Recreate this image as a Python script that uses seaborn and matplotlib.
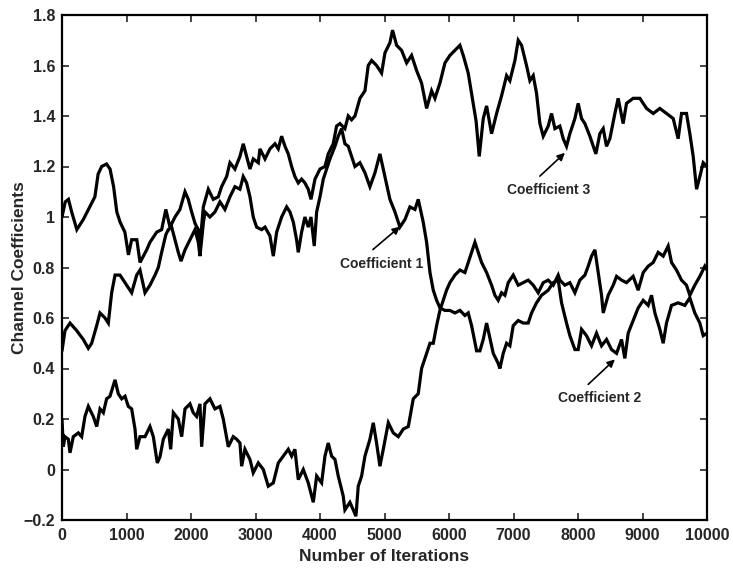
import matplotlib
matplotlib.use("Agg")
import matplotlib.pyplot as plt
import numpy as np
import pandas as pd
import seaborn as sns

# ---- channel coefficient tracks (iteration, value) ----
coef3_iter = [0, 50, 100, 150, 230, 330, 430, 510, 560, 615, 690, 745, 800, 850, 900, 975,
              1030, 1080, 1160, 1210, 1313, 1364, 1468, 1545, 1610, 1674, 1752, 1829, 1907,
              1958, 2010, 2062, 2113, 2139, 2191, 2268, 2345, 2423, 2474, 2552, 2604, 2681,
              2759, 2810, 2862, 2914, 2965, 3043, 3069, 3147, 3224, 3302, 3353, 3405, 3457,
              3508, 3560, 3611, 3663, 3715, 3766, 3818, 3860, 3922, 4000, 4077, 4128, 4205,
              4257, 4309, 4386, 4438, 4490, 4542, 4619, 4697, 4748, 4800, 4877, 4955, 5007,
              5084, 5125, 5188, 5265, 5343, 5420, 5498, 5575, 5653, 5730, 5782, 5859, 5937,
              6014, 6092, 6169, 6221, 6298, 6376, 6420, 6469, 6531, 6583, 6660, 6738, 6815,
              6893, 6944, 7022, 7073, 7125, 7202, 7254, 7306, 7357, 7409, 7461, 7538, 7590,
              7642, 7719, 7771, 7822, 7874, 7952, 8003, 8055, 8107, 8184, 8277, 8339, 8391,
              8442, 8494, 8572, 8623, 8700, 8752, 8855, 8959, 9063, 9166, 9269, 9372, 9476,
              9553, 9605, 9682, 9734, 9786, 9838, 9889, 9941, 10000]
coef3_val = [1.00, 1.06, 1.07, 1.02, 0.95, 0.99, 1.04, 1.08, 1.17, 1.20, 1.21, 1.19, 1.12, 1.02,
             0.98, 0.94, 0.85, 0.91, 0.91, 0.82, 0.87, 0.90, 0.94, 0.95, 1.03, 0.96, 1.00, 1.03,
             1.10, 1.07, 1.02, 0.975, 0.95, 0.885, 1.04, 1.11, 1.07, 1.08, 1.12, 1.16, 1.215,
             1.19, 1.24, 1.29, 1.24, 1.19, 1.23, 1.215, 1.27, 1.23, 1.27, 1.29, 1.27, 1.32, 1.28,
             1.25, 1.20, 1.16, 1.135, 1.15, 1.135, 1.11, 1.07, 1.15, 1.19, 1.20, 1.25, 1.29,
             1.36, 1.37, 1.35, 1.40, 1.385, 1.40, 1.47, 1.50, 1.60, 1.62, 1.60, 1.57, 1.65,
             1.69, 1.74, 1.68, 1.66, 1.61, 1.64, 1.58, 1.53, 1.43, 1.50, 1.47, 1.53, 1.61,
             1.64, 1.66, 1.68, 1.64, 1.57, 1.45, 1.38, 1.24, 1.39, 1.44, 1.33, 1.41, 1.48,
             1.56, 1.54, 1.62, 1.70, 1.68, 1.60, 1.54, 1.56, 1.49, 1.37, 1.32, 1.36, 1.41,
             1.35, 1.36, 1.31, 1.28, 1.33, 1.39, 1.45, 1.39, 1.37, 1.32, 1.25, 1.33, 1.35,
             1.28, 1.31, 1.41, 1.47, 1.37, 1.45, 1.47, 1.47, 1.43, 1.41, 1.43, 1.41, 1.39,
             1.31, 1.41, 1.41, 1.33, 1.24, 1.11, 1.16, 1.215, 1.20]

coef1_iter = [0, 46, 124, 228, 330, 408, 460, 538, 589, 667, 718, 770, 822, 899, 1003, 1080,
              1158, 1209, 1287, 1364, 1442, 1493, 1545, 1610, 1648, 1700, 1752, 1803, 1845,
              1907, 1984, 2062, 2113, 2139, 2191, 2216, 2294, 2371, 2449, 2526, 2604, 2681,
              2759, 2810, 2862, 2914, 2965, 3017, 3095, 3147, 3224, 3276, 3328, 3405, 3483,
              3534, 3586, 3637, 3663, 3715, 3766, 3818, 3860, 3911, 3948, 4000, 4051, 4102,
              4154, 4232, 4283, 4335, 4386, 4438, 4490, 4542, 4619, 4697, 4774, 4852, 4929,
              5007, 5084, 5162, 5239, 5317, 5394, 5472, 5523, 5600, 5653, 5705, 5756, 5808,
              5860, 5937, 6014, 6092, 6169, 6247, 6298, 6350, 6428, 6479, 6531, 6583, 6634,
              6686, 6763, 6789, 6841, 6893, 6944, 6996, 7073, 7150, 7228, 7280, 7357, 7435,
              7538, 7616, 7693, 7745, 7822, 7874, 7952, 8003, 8055, 8132, 8210, 8287, 8365,
              8442, 8520, 8598, 8675, 8726, 8778, 8855, 8933, 9011, 9088, 9140, 9192, 9269,
              9321, 9372, 9450, 9553, 9656, 9734, 9811, 9889, 9941, 10000]
coef1_val = [0.47, 0.55, 0.58, 0.55, 0.515, 0.48, 0.50, 0.57, 0.62, 0.60, 0.58, 0.70, 0.77,
             0.77, 0.73, 0.70, 0.77, 0.79, 0.70, 0.73, 0.77, 0.80, 0.86, 0.93, 0.95, 0.96,
             0.91, 0.86, 0.825, 0.87, 0.91, 0.95, 0.90, 0.845, 0.975, 1.02, 1.00, 1.02, 1.06,
             1.03, 1.08, 1.12, 1.11, 1.16, 1.135, 1.08, 1.00, 0.96, 0.95, 0.96, 0.925, 0.845,
             0.94, 1.00, 1.04, 1.02, 0.98, 0.91, 0.86, 0.94, 1.00, 0.96, 1.00, 0.885, 1.02,
             1.08, 1.15, 1.19, 1.23, 1.28, 1.32, 1.35, 1.29, 1.28, 1.24, 1.20, 1.215, 1.175,
             1.12, 1.175, 1.25, 1.16, 1.07, 1.02, 0.96, 0.99, 1.04, 1.03, 1.07, 0.98, 0.90,
             0.78, 0.71, 0.67, 0.64, 0.63, 0.63, 0.62, 0.63, 0.61, 0.62, 0.57, 0.47, 0.47,
             0.515, 0.58, 0.52, 0.46, 0.42, 0.40, 0.46, 0.50, 0.49, 0.57, 0.59, 0.58, 0.58,
             0.62, 0.66, 0.69, 0.71, 0.74, 0.75, 0.66, 0.58, 0.53, 0.475, 0.475, 0.555, 0.53,
             0.49, 0.54, 0.49, 0.515, 0.475, 0.46, 0.515, 0.44, 0.54, 0.59, 0.64, 0.67, 0.65,
             0.69, 0.62, 0.555, 0.50, 0.58, 0.65, 0.66, 0.65, 0.68, 0.62, 0.58, 0.53, 0.54]

coef2_iter = [0, 20, 46, 98, 124, 175, 253, 305, 356, 408, 485, 538, 589, 641, 692, 744, 822,
              873, 925, 977, 1028, 1080, 1132, 1158, 1209, 1287, 1364, 1416, 1477, 1519, 1571,
              1648, 1685, 1726, 1803, 1855, 1907, 1984, 2035, 2087, 2139, 2165, 2216, 2294,
              2371, 2449, 2500, 2578, 2655, 2707, 2759, 2785, 2836, 2914, 2965, 3043, 3121,
              3198, 3276, 3353, 3431, 3508, 3560, 3611, 3663, 3741, 3818, 3896, 3948, 4025,
              4077, 4128, 4180, 4232, 4283, 4360, 4386, 4464, 4516, 4557, 4593, 4645, 4697,
              4774, 4826, 4877, 4929, 4981, 5059, 5136, 5214, 5291, 5369, 5446, 5523, 5575,
              5653, 5705, 5756, 5808, 5859, 5911, 5962, 6014, 6092, 6169, 6247, 6298, 6350,
              6402, 6453, 6505, 6583, 6660, 6712, 6763, 6815, 6867, 6918, 6996, 7073, 7150,
              7228, 7306, 7383, 7461, 7538, 7616, 7693, 7719, 7797, 7874, 7952, 8029, 8107,
              8158, 8210, 8262, 8313, 8365, 8391, 8468, 8546, 8598, 8675, 8752, 8855, 8933,
              9011, 9088, 9166, 9243, 9321, 9398, 9450, 9527, 9605, 9682, 9734, 9811, 9889,
              9966, 10000]
coef2_val = [0.20, 0.09, 0.13, 0.12, 0.066, 0.13, 0.145, 0.13, 0.21, 0.25, 0.21, 0.17, 0.24,
             0.225, 0.28, 0.29, 0.355, 0.30, 0.28, 0.29, 0.25, 0.24, 0.16, 0.08, 0.13, 0.13,
             0.17, 0.13, 0.026, 0.05, 0.12, 0.16, 0.08, 0.225, 0.20, 0.13, 0.24, 0.26, 0.225,
             0.21, 0.26, 0.09, 0.26, 0.28, 0.24, 0.25, 0.20, 0.09, 0.13, 0.12, 0.105, 0.013,
             0.08, 0.04, -0.013, 0.026, 0.0, -0.066, -0.053, 0.026, 0.053, 0.08, 0.053, 0.08,
             -0.04, 0.0, -0.053, -0.13, -0.026, -0.053, 0.053, 0.105, 0.053, 0.04, -0.026,
             -0.105, -0.16, -0.13, -0.16, -0.185, -0.066, -0.026, 0.053, 0.12, 0.185, 0.105,
             0.013, 0.08, 0.185, 0.145, 0.13, 0.16, 0.17, 0.28, 0.30, 0.40, 0.46, 0.50, 0.50,
             0.57, 0.63, 0.67, 0.71, 0.74, 0.77, 0.79, 0.78, 0.82, 0.86, 0.90, 0.86, 0.82,
             0.78, 0.73, 0.69, 0.67, 0.70, 0.69, 0.74, 0.77, 0.73, 0.74, 0.75, 0.73, 0.70,
             0.74, 0.75, 0.73, 0.77, 0.75, 0.73, 0.74, 0.70, 0.75, 0.77, 0.805, 0.845, 0.87,
             0.78, 0.69, 0.62, 0.69, 0.73, 0.765, 0.75, 0.74, 0.765, 0.71, 0.78, 0.805, 0.82,
             0.86, 0.845, 0.885, 0.82, 0.79, 0.75, 0.73, 0.69, 0.73, 0.765, 0.805, 0.79]

x_ticks = [0, 1000, 2000, 3000, 4000, 5000, 6000, 7000, 8000, 9000, 10000]
y_ticks = [-0.2, 0, 0.2, 0.4, 0.6, 0.8, 1.0, 1.2, 1.4, 1.6, 1.8]
y_tick_labels = ["\u22120.2", "0", "0.2", "0.4", "0.6", "0.8", "1", "1.2", "1.4", "1.6", "1.8"]

# label text, label centre, arrow tail, arrow head
notes = [
    ("Coefficient 1", (4960, 0.812), (4820, 0.871), (5240, 0.962)),
    ("Coefficient 3", (7550, 1.105), (7409, 1.162), (7797, 1.254)),
    ("Coefficient 2", (8340, 0.285), (8158, 0.337), (8572, 0.436)),
]

sns.set_style("ticks")
plt.rcParams["font.family"] = ["Liberation Sans", "DejaVu Sans"]
plt.rcParams["font.weight"] = "bold"

fig = plt.figure(figsize=(7.33, 5.69), dpi=100)
ax = fig.add_axes([62 / 733, 1 - 520 / 569, (707 - 62) / 733, (520 - 15) / 569])

frames = [
    pd.DataFrame({"iteration": coef1_iter, "value": coef1_val}),
    pd.DataFrame({"iteration": coef2_iter, "value": coef2_val}),
    pd.DataFrame({"iteration": coef3_iter, "value": coef3_val}),
]
for df in frames:
    sns.lineplot(data=df, x="iteration", y="value", ax=ax, color="black",
                 linewidth=2.3, sort=False, estimator=None,
                 solid_joinstyle="miter")

ax.set_xlim(0, 10000)
ax.set_ylim(-0.2, 1.8)
ax.set_xticks(x_ticks)
ax.set_xticklabels([str(t) for t in x_ticks])
ax.set_yticks(y_ticks)
ax.set_yticklabels(y_tick_labels)
ax.tick_params(direction="in", top=True, right=True, length=5, width=1.2,
               labelsize=11.5)
ax.tick_params(axis="x", pad=6)
ax.tick_params(axis="y", pad=5)
for lab in ax.get_xticklabels() + ax.get_yticklabels():
    lab.set_fontweight("bold")
for sp in ax.spines.values():
    sp.set_visible(True)
    sp.set_linewidth(1.6)
    sp.set_color("black")

ax.set_xlabel("Number of Iterations", fontsize=12.5, fontweight="bold")
ax.set_ylabel("Channel Coefficients", fontsize=12.5, fontweight="bold")
ax.xaxis.set_label_coords(0.5, -0.058)
ax.yaxis.set_label_coords(-0.054, 0.5)

for text, (tx, ty), (ax0, ay0), (hx, hy) in notes:
    ax.text(tx, ty, text, ha="center", va="center", fontsize=10, fontweight="bold")
    ax.annotate("", xy=(hx, hy), xytext=(ax0, ay0),
                arrowprops=dict(arrowstyle="-|>", color="black", lw=1.2,
                                mutation_scale=11, shrinkA=0, shrinkB=0))

fig.savefig("out.png", dpi=100)
